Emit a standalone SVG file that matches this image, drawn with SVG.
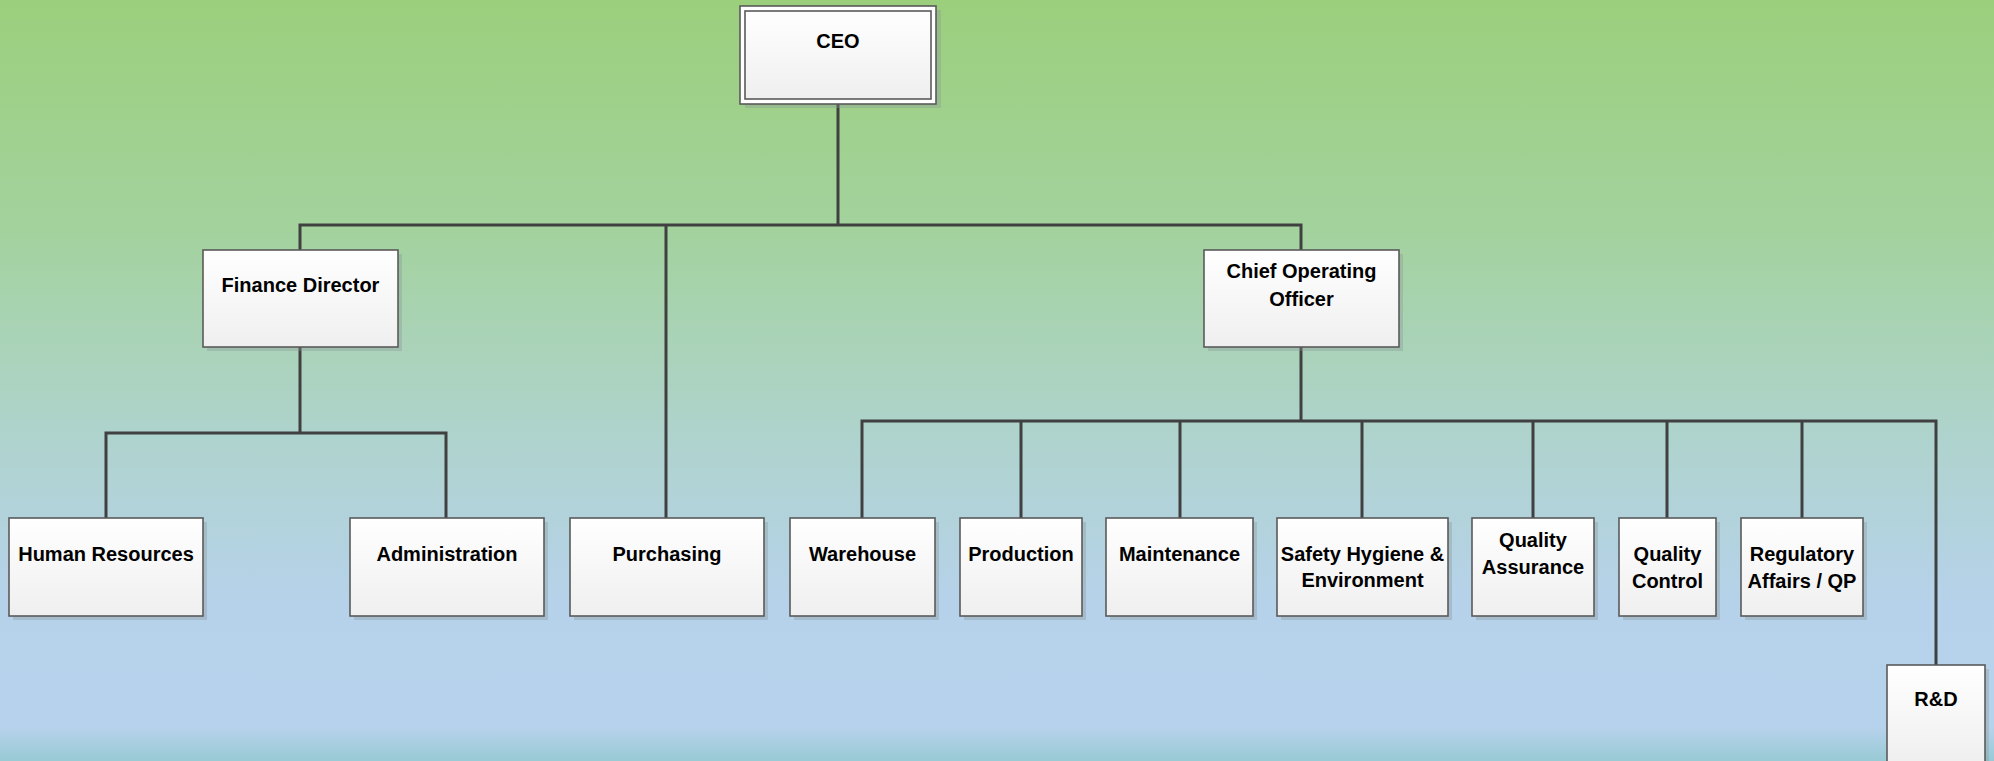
<svg xmlns="http://www.w3.org/2000/svg" width="1994" height="761" viewBox="0 0 1994 761">
<defs>
<linearGradient id="bg" x1="0" y1="0" x2="0" y2="1">
<stop offset="0" stop-color="#9bcf7c"/>
<stop offset="0.3" stop-color="#a3d29d"/>
<stop offset="0.56" stop-color="#aed3cb"/>
<stop offset="0.79" stop-color="#b6d2ea"/>
<stop offset="0.955" stop-color="#b7d2ec"/>
<stop offset="1" stop-color="#98cad4"/>
</linearGradient>
<linearGradient id="box" x1="0" y1="0" x2="0" y2="1">
<stop offset="0" stop-color="#ffffff"/>
<stop offset="1" stop-color="#efefef"/>
</linearGradient>
</defs>
<style>
.sh{fill:#8a9494;fill-opacity:0.35}
.bx{fill:url(#box);stroke:#5a5a5a;stroke-width:1.6}
.t{font-family:"Liberation Sans",Arial,sans-serif;font-weight:bold;font-size:20px;fill:#000;text-anchor:middle}
.c{fill:none;stroke:#404040;stroke-width:3;stroke-linecap:square}
</style>
<rect width="1994" height="761" fill="url(#bg)"/>
<g id="connectors">
<path class="c" d="M838 104V225M300 225H1301M300 225V250M1301 225V250M666 225V518"/>
<path class="c" d="M300 347V433M106 433H446M106 433V518M446 433V518"/>
<path class="c" d="M1301 347V421M862 421H1936M862 421V518M1021 421V518M1180 421V518M1362 421V518M1533 421V518M1667 421V518M1802 421V518M1936 421V665"/>
</g>
<g id="ceo">
<rect class="sh" x="745" y="10" width="196" height="98"/>
<rect x="740" y="6" width="196" height="98" fill="#fff" stroke="#5a5a5a" stroke-width="1.6"/>
<rect class="bx" x="745" y="11" width="186" height="88"/>
<text class="t" x="838" y="48">CEO</text>
</g>
<g id="finance">
<rect class="sh" x="207" y="254" width="195" height="97"/>
<rect class="bx" x="203" y="250" width="195" height="97"/>
<text class="t" x="300.5" y="292">Finance Director</text>
</g>
<g id="coo">
<rect class="sh" x="1208" y="254" width="195" height="97"/>
<rect class="bx" x="1204" y="250" width="195" height="97"/>
<text class="t" x="1301.5" y="278">Chief Operating</text>
<text class="t" x="1301.5" y="306">Officer</text>
</g>
<g id="hr">
<rect class="sh" x="13" y="522" width="194" height="98"/>
<rect class="bx" x="9" y="518" width="194" height="98"/>
<text class="t" x="106" y="561">Human Resources</text>
</g>
<g id="admin">
<rect class="sh" x="354" y="522" width="194" height="98"/>
<rect class="bx" x="350" y="518" width="194" height="98"/>
<text class="t" x="447" y="561">Administration</text>
</g>
<g id="purchasing">
<rect class="sh" x="574" y="522" width="194" height="98"/>
<rect class="bx" x="570" y="518" width="194" height="98"/>
<text class="t" x="667" y="561">Purchasing</text>
</g>
<g id="warehouse">
<rect class="sh" x="794" y="522" width="145" height="98"/>
<rect class="bx" x="790" y="518" width="145" height="98"/>
<text class="t" x="862.5" y="561">Warehouse</text>
</g>
<g id="production">
<rect class="sh" x="964" y="522" width="122" height="98"/>
<rect class="bx" x="960" y="518" width="122" height="98"/>
<text class="t" x="1021" y="561">Production</text>
</g>
<g id="maintenance">
<rect class="sh" x="1110" y="522" width="147" height="98"/>
<rect class="bx" x="1106" y="518" width="147" height="98"/>
<text class="t" x="1179.5" y="561">Maintenance</text>
</g>
<g id="safety">
<rect class="sh" x="1281" y="522" width="171" height="98"/>
<rect class="bx" x="1277" y="518" width="171" height="98"/>
<text class="t" x="1362.5" y="561">Safety Hygiene &amp;</text>
<text class="t" x="1362.5" y="587">Environment</text>
</g>
<g id="qa">
<rect class="sh" x="1476" y="522" width="122" height="98"/>
<rect class="bx" x="1472" y="518" width="122" height="98"/>
<text class="t" x="1533" y="547">Quality</text>
<text class="t" x="1533" y="574">Assurance</text>
</g>
<g id="qc">
<rect class="sh" x="1623" y="522" width="97" height="98"/>
<rect class="bx" x="1619" y="518" width="97" height="98"/>
<text class="t" x="1667.5" y="561">Quality</text>
<text class="t" x="1667.5" y="588">Control</text>
</g>
<g id="regulatory">
<rect class="sh" x="1745" y="522" width="122" height="98"/>
<rect class="bx" x="1741" y="518" width="122" height="98"/>
<text class="t" x="1802" y="561">Regulatory</text>
<text class="t" x="1802" y="588">Affairs / QP</text>
</g>
<g id="rnd">
<rect class="sh" x="1891" y="669" width="98" height="98"/>
<rect class="bx" x="1887" y="665" width="98" height="98"/>
<text class="t" x="1936" y="706">R&amp;D</text>
</g>
</svg>
